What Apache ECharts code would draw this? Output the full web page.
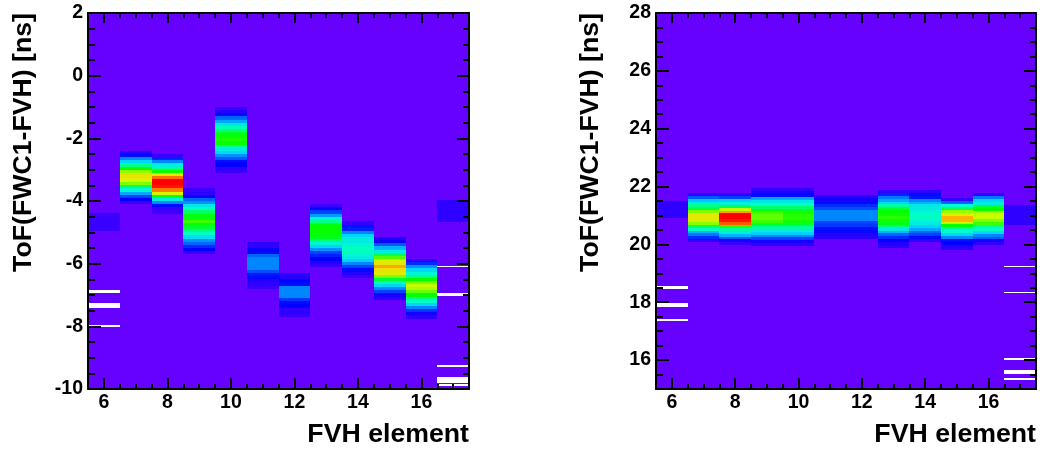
<!DOCTYPE html>
<html>
<head>
<meta charset="utf-8">
<title>ToF(FWC1-FVH) vs FVH element</title>
<script src="https://cdn.jsdelivr.net/npm/echarts@6.0.0/dist/echarts.min.js"></script>
<style>
html,body{margin:0;padding:0;background:#fff;}
.pad{position:absolute;top:0;width:523px;height:450px;}
#left{left:0;}
#right{left:523px;}
</style>
</head>
<body>
<div id="left" class="pad"></div>
<div id="right" class="pad"></div>
<script>
// FVH element columns and y bin width [ns]
var elements=[6,7,8,9,10,11,12,13,14,15,16,17];
var binH=0.1;

// left pad: upper edge of each column [ns], then bin contents top->bottom (palette scale 0..100)
var leftTops=[-4.37,-2.4,-2.5,-3.6,-1.0,-5.3,-6.3,-4.1,-4.65,-5.15,-5.85,-3.97];
var leftCounts=[
	[4,4,4,4,4,4],
	[6,10,21,29,42,55,67,77,77,73,66,45,35,24,15,9,4],
	[4,12,21,33,42,55,77,90,100,100,98,89,75,52,33,21,10,4,4],
	[4,5,9,18,22,32,37,45,53,55,60,55,50,43,37,30,22,18,13,9,4],
	[4,6,10,18,24,32,38,45,52,55,57,55,42,33,29,22,17,10,9,5,4],
	[5,5,8,10,18,21,21,21,21,16,11,10,6,5,4],
	[5,6,9,10,21,21,21,21,14,10,9,5,5,4],
	[4,8,15,23,34,42,53,55,55,55,52,44,35,29,22,15,12,9,6,4],
	[5,11,12,21,29,33,33,35,37,38,35,33,28,21,15,10,6,4],
	[6,8,17,25,33,47,62,75,77,85,78,76,65,50,38,29,21,15,7,5],
	[5,13,22,29,35,42,55,65,72,70,64,55,43,37,29,21,14,7,5],
	[5,5,5,5,5,5,5]
];
// empty (white) bins: [element, low, high]
var leftEmpty=[
	[6,-6.94,-6.84],[6,-7.41,-7.26],[6,-8.01,-7.96],
	[17,-6.12,-6.06],[17,-7.03,-6.95],[17,-9.30,-9.24],[17,-9.80,-9.61],[17,-9.91,-9.84]
];

// right pad
var rightTops=[21.5,21.78,21.77,21.94,21.94,21.7,21.7,21.88,21.88,21.59,21.77,21.36];
var rightCounts=[
	[5,5,5,5,5,5],
	[5,17,27,33,42,48,66,76,77,76,67,46,38,25,20,13,5],
	[5,15,28,34,47,72,86,100,100,98,92,58,40,33,25,17,7,4],
	[5,7,10,24,32,37,45,53,60,63,63,60,50,41,33,28,21,15,7,5],
	[5,7,10,24,32,37,45,52,56,58,58,56,50,41,33,28,21,15,7,5],
	[6,7,10,13,16,21,21,21,21,15,14,10,10,6,5],
	[6,7,10,13,16,21,21,21,21,15,14,10,10,6,5],
	[5,12,20,24,29,40,50,54,56,58,56,53,43,33,25,18,13,9,6,5],
	[5,10,11,21,25,32,33,35,37,37,35,33,28,24,18,15,10,5],
	[5,18,36,46,68,75,84,84,72,55,40,36,29,21,10,9,6,5],
	[5,20,29,33,50,55,70,72,72,66,60,40,37,29,21,17,7,5],
	[5,5,5,5,5,5,5]
];
var rightEmpty=[
	[6,18.45,18.56],[6,17.84,17.96],[6,17.35,17.41],
	[17,19.23,19.26],[17,18.33,18.36],[17,16.00,16.06],[17,15.52,15.66],[17,15.31,15.39]
];

// axis tick labels
var xLabels=[6,8,10,12,14,16];
var leftYLabels=[-10,-8,-6,-4,-2,0,2];
var rightYLabels=[16,18,20,22,24,26,28];

var yTitle='ToF(FWC1-FVH) [ns]';
var xTitle='FVH element';

// ROOT-like rainbow palette, violet -> red
var palette=['#6600ff','#0000ff','#0066ff','#00ccff','#00ffcc','#00ff66','#00ff00','#66ff00','#ccff00','#ffcc00','#ff6600','#ff0000'];

function buildCells(tops,counts){
	var out=[];
	for(var i=0;i<elements.length;i++){
		for(var k=0;k<counts[i].length;k++){
			var hi=tops[i]-k*binH;
			out.push([elements[i],hi-binH,hi,counts[i][k]]);
		}
	}
	return out;
}

var labelFont={fontFamily:'Liberation Sans',fontWeight:'bold',fontSize:19.5,color:'#000'};
var nameFont={fontFamily:'Liberation Sans',fontWeight:'bold',fontSize:26.7,color:'#000'};

// major axis: nice ticks every 2 (plus frame edges), labels from the label list
function majorAxis(pos,range,labels,len){
	return {type:'value',position:pos,min:range[0],max:range[1],splitNumber:6,z:10,
		axisLine:{show:true,onZero:false,lineStyle:{color:'#000',width:2}},
		axisTick:{show:true,inside:true,length:len,lineStyle:{color:'#000',width:2}},
		axisLabel:Object.assign({show:!!labels,customValues:labels||undefined,margin:pos=='bottom'?4:5},labelFont),
		splitLine:{show:false},axisPointer:{show:false}};
}
// minor axis: ticks every 0.5 counted from min
function minorAxis(pos,range,len){
	return {type:'value',position:pos,min:range[0],max:range[1],interval:0.5,z:10,
		axisLine:{show:false,onZero:false},
		axisTick:{show:true,inside:true,length:len,lineStyle:{color:'#000',width:2}},
		axisLabel:{show:false},splitLine:{show:false},axisPointer:{show:false}};
}
// y title carried by a bare axis pushed out to the left of the frame
function titleAxis(range,offset){
	return {type:'value',position:'left',offset:offset,min:range[0],max:range[1],z:10,
		axisLine:{show:false,onZero:false},axisTick:{show:false},axisLabel:{show:false},
		splitLine:{show:false},axisPointer:{show:false},
		name:yTitle,nameLocation:'end',nameGap:0,nameRotate:90,nameMoveOverlap:false,
		nameTextStyle:Object.assign({align:'right',verticalAlign:'middle'},nameFont)};
}

function cellRect(api,fill){
	var x=api.value(0),lo=api.value(1),hi=api.value(2);
	var p0=api.coord([x-0.5,hi]);
	var p1=api.coord([x+0.5,lo]);
	var x0=Math.round(p0[0]),x1=Math.round(p1[0]);
	var y0=Math.round(p0[1]),y1=Math.round(p1[1]);
	return {type:'rect',shape:{x:x0,y:y0,width:x1-x0,height:Math.max(1,y1-y0)},style:{fill:fill}};
}

function drawPad(id,gridLeft,gridWidth,yRange,yLabels,tops,counts,empty,titleOffset){
	var xRange=[5.5,17.5];
	var xb=majorAxis('bottom',xRange,xLabels,11);
	xb.name=xTitle;xb.nameLocation='end';xb.nameGap=0;xb.nameMoveOverlap=false;
	xb.nameTextStyle=Object.assign({align:'right',verticalAlign:'top',padding:[32,0,0,0]},nameFont);
	var opt={
		animation:false,
		grid:[{left:gridLeft,top:13,width:gridWidth,height:376,show:true,backgroundColor:'#6600ff',borderWidth:0}],
		xAxis:[xb,minorAxis('bottom',xRange,5),majorAxis('top',xRange,null,10),minorAxis('top',xRange,5)],
		yAxis:[majorAxis('left',yRange,yLabels,13),minorAxis('left',yRange,7),
			majorAxis('right',yRange,null,12),minorAxis('right',yRange,6),titleAxis(yRange,titleOffset)],
		visualMap:{type:'continuous',show:false,min:0,max:100,dimension:3,seriesIndex:0,inRange:{color:palette}},
		series:[
			{type:'custom',renderItem:function(p,api){return cellRect(api,api.visual('color'));},
				encode:{x:0,y:[1,2]},data:buildCells(tops,counts),silent:true},
			{type:'custom',renderItem:function(p,api){return cellRect(api,'#ffffff');},
				encode:{x:0,y:[1,2]},data:empty,silent:true}
		]
	};
	echarts.init(document.getElementById(id)).setOption(opt);
}

drawPad('left',88,381,[-10,2],leftYLabels,leftTops,leftCounts,leftEmpty,64);
drawPad('right',133,380,[15,28],rightYLabels,rightTops,rightCounts,rightEmpty,65);
</script>
</body>
</html>
